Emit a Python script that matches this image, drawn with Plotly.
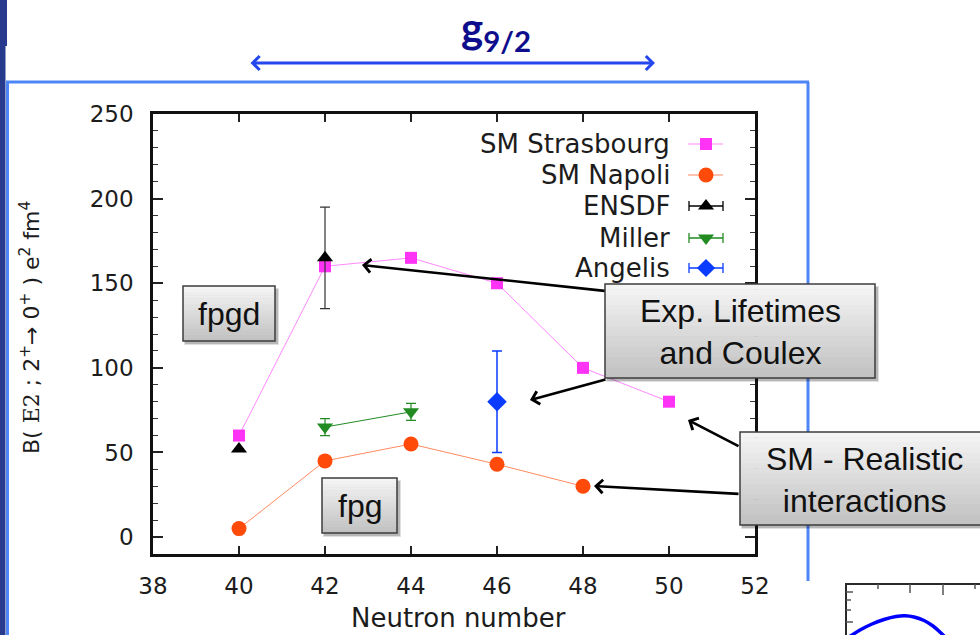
import plotly.graph_objects as go

W, H = 980, 635

# ---- data: B(E2; 2+ -> 0+) in e^2 fm^4 versus neutron number ----
n_strasbourg = [40, 42, 44, 46, 48, 50]
be2_strasbourg = [60, 160, 165, 150, 100, 80]

n_napoli = [40, 42, 44, 46, 48]
be2_napoli = [5, 45, 55, 43, 30]

n_ensdf = [40, 42]
be2_ensdf = [52, 165]
err_ensdf = [0, 30]

n_miller = [42, 44]
be2_miller = [65, 74]
err_miller = [5, 5]

n_angelis = [46]
be2_angelis = [80]
err_angelis = [30]

x_tick_vals = [38, 40, 42, 44, 46, 48, 50, 52]
y_tick_vals = [0, 50, 100, 150, 200, 250]

legend_names = ["SM Strasbourg", "SM Napoli", "ENSDF", "Miller", "Angelis"]

# small curve of the neighbouring panel peeking in at the bottom right
inset_curve_x = [849, 860, 872, 884, 896, 905, 914, 924, 933, 941, 946]
inset_curve_y = [637, 630, 624, 619.5, 616.5, 615.8, 617, 620.5, 626, 633, 638]

# ---- styling ----
MAGENTA = "#ff33f5"
MAGENTA_LINE = "#ff88ff"
ORANGE = "#ff4a0a"
ORANGE_LINE = "#ff8a60"
GREEN = "#228b22"
BLUE = "#0a3cff"
FRAME_BLUE = "#4f86f7"
NAVY = "#283a8e"
TEXT = "#1c1c1c"
SANS = "DejaVu Sans"
BOX_FONT = "Liberation Sans"

# plot-area placement in pixels
PX0, PX1 = 153, 755
PY0, PY1 = 114, 554


def fx(px):
    return px / W


def fy(py):
    return 1 - py / H


fig = go.Figure()

# ---- main data traces ----
fig.add_trace(go.Scatter(
    x=n_strasbourg, y=be2_strasbourg, mode="lines+markers",
    line=dict(color=MAGENTA_LINE, width=1),
    marker=dict(symbol="square", size=12, color=MAGENTA),
    name=legend_names[0], showlegend=False))
fig.add_trace(go.Scatter(
    x=n_napoli, y=be2_napoli, mode="lines+markers",
    line=dict(color=ORANGE_LINE, width=1),
    marker=dict(symbol="circle", size=15, color=ORANGE),
    name=legend_names[1], showlegend=False))
fig.add_trace(go.Scatter(
    x=n_ensdf, y=be2_ensdf, mode="markers",
    marker=dict(symbol="triangle-up", size=14, color="black"),
    error_y=dict(type="data", array=err_ensdf, color="#333", thickness=1.2, width=5),
    name=legend_names[2], showlegend=False))
fig.add_trace(go.Scatter(
    x=n_miller, y=be2_miller, mode="lines+markers",
    line=dict(color=GREEN, width=1),
    marker=dict(symbol="triangle-down", size=14, color=GREEN),
    error_y=dict(type="data", array=err_miller, color=GREEN, thickness=1.2, width=5),
    name=legend_names[3], showlegend=False))
fig.add_trace(go.Scatter(
    x=n_angelis, y=be2_angelis, mode="markers",
    marker=dict(symbol="diamond", size=15, color=BLUE),
    error_y=dict(type="data", array=err_angelis, color=BLUE, thickness=1.5, width=5),
    name=legend_names[4], showlegend=False))

# ---- overlay (pixel coordinates) for legend, decorations ----
OV = dict(xaxis="x2", yaxis="y2", showlegend=False, hoverinfo="skip")
leg_y = [144, 175, 206, 238, 268]
leg_mx, leg_x0, leg_x1 = 706, 688, 723

fig.add_trace(go.Scatter(x=[leg_x0, leg_x1], y=[leg_y[0]] * 2, mode="lines",
                         line=dict(color=MAGENTA_LINE, width=1.2), **OV))
fig.add_trace(go.Scatter(x=[leg_mx], y=[leg_y[0]], mode="markers",
                         marker=dict(symbol="square", size=12, color=MAGENTA), **OV))
fig.add_trace(go.Scatter(x=[leg_x0, leg_x1], y=[leg_y[1]] * 2, mode="lines",
                         line=dict(color=ORANGE_LINE, width=1.2), **OV))
fig.add_trace(go.Scatter(x=[leg_mx], y=[leg_y[1]], mode="markers",
                         marker=dict(symbol="circle", size=15, color=ORANGE), **OV))
for yy, sym, col in [(leg_y[2], "triangle-up", "black"),
                     (leg_y[3], "triangle-down", GREEN),
                     (leg_y[4], "diamond", BLUE)]:
    fig.add_trace(go.Scatter(
        x=[leg_mx], y=[yy], mode="markers",
        marker=dict(symbol=sym, size=14, color=col),
        error_x=dict(type="constant", value=leg_x1 - leg_mx, color=col,
                     thickness=1.3, width=5), **OV))

# neighbouring panel curve
fig.add_trace(go.Scatter(x=inset_curve_x, y=inset_curve_y, mode="lines",
                         line=dict(color="#0000ff", width=3.5, shape="spline"), **OV))

shapes = []


def ov_rect(x0, y0, x1, y1, fill=None, line_color=None, line_width=0, layer="above"):
    shapes.append(dict(type="rect", xref="x2", yref="y2", x0=x0, y0=y0, x1=x1, y1=y1,
                       fillcolor=fill if fill else "rgba(0,0,0,0)",
                       line=dict(color=line_color if line_color else "rgba(0,0,0,0)",
                                 width=line_width),
                       layer=layer))


def ov_line(x0, y0, x1, y1, color, width, layer="above"):
    shapes.append(dict(type="line", xref="x2", yref="y2", x0=x0, y0=y0, x1=x1, y1=y1,
                       line=dict(color=color, width=width), layer=layer))


# slide decorations: left band and blue frame
ov_rect(-2, -2, 7, 46, fill=NAVY)
ov_rect(-2, 46, 5.5, 640, fill=NAVY)
ov_line(7.5, 82, 7.5, 640, FRAME_BLUE, 3)
ov_line(6, 82, 809, 82, FRAME_BLUE, 3)
ov_line(808, 82, 808, 581, FRAME_BLUE, 3)

# neighbouring panel frame and ticks
ov_line(846, 584, 990, 584, "#2a2a2a", 2)
ov_line(846, 583, 846, 640, "#2a2a2a", 2)
for tx, tl in [(878, 5), (910, 9), (943, 11), (975, 5)]:
    ov_line(tx, 584, tx, 584 + tl, "#555", 1.5)
for ty, tl in [(592, 7), (600, 5), (610, 5), (622, 7)]:
    ov_line(846, ty, 846 + tl, ty, "#555", 1.5)


def callout(x0, y0, x1, y1):
    # soft drop shadow
    ov_rect(x0 + 1, y0 + 2, x1 + 4, y1 + 4, fill="rgba(0,0,0,0.12)")
    ov_rect(x0 + 2, y0 + 3, x1 + 3, y1 + 3, fill="rgba(0,0,0,0.18)")
    # vertical grey gradient
    n = 18
    top, bot = (246, 246, 246), (192, 192, 192)
    for i in range(n):
        t = (i + 0.5) / n
        c = tuple(int(round(top[k] + (bot[k] - top[k]) * t)) for k in range(3))
        ya = y0 + (y1 - y0) * i / n
        yb = y0 + (y1 - y0) * (i + 1) / n + 0.6
        ov_rect(x0, ya, x1, min(yb, y1), fill="rgb(%d,%d,%d)" % c)
    ov_rect(x0, y0, x1, y1, line_color="#3c3c3c", line_width=1.5)


callout(183, 286, 275, 341)
callout(322, 478, 397, 533)
callout(605, 284, 875, 378)
callout(740, 432, 995, 525)

annotations = []


def ov_text(x, y, text, size, family=SANS, color=TEXT, xanchor="center",
            yanchor="middle", angle=0):
    annotations.append(dict(xref="x2", yref="y2", x=x, y=y, text=text, showarrow=False,
                            xanchor=xanchor, yanchor=yanchor, textangle=angle,
                            font=dict(family=family, size=size, color=color)))


def ov_arrow(hx, hy, tx, ty, color="black", width=2.6, head=4, both=False, size=1.0):
    a = dict(xref="x2", yref="y2", axref="x2", ayref="y2", x=hx, y=hy, ax=tx, ay=ty,
             text="", showarrow=True, arrowhead=head, arrowsize=size,
             arrowwidth=width, arrowcolor=color, standoff=0, startstandoff=0)
    if both:
        a.update(arrowside="end+start", startarrowhead=head, startarrowsize=size)
    annotations.append(a)


# legend labels
for name, yy in zip(legend_names, leg_y):
    ov_text(672, yy, name, 26, xanchor="right")

# axis titles
ov_text(458, 618, "Neutron number", 26)
ov_text(30, 328,
        "B( <span style='font-family:\"DejaVu Serif\"'>E2</span> ; 2<sup>+</sup>"
        "\u2192 0<sup>+</sup> ) e<sup>2</sup> fm<sup>4</sup>",
        22, angle=-90)

# callout texts
ov_text(229, 314, "fpgd", 32, family=BOX_FONT, color="#111")
ov_text(360, 506, "fpg", 32, family=BOX_FONT, color="#111")
ov_text(740, 332, "Exp. Lifetimes<br>and Coulex", 32, family=BOX_FONT, color="#111")
ov_text(864, 480, "SM - Realistic<br>interactions", 32, family=BOX_FONT, color="#111")

# g9/2 header and its span arrow
ov_text(496, 30, "<b>g<sub>9/2</sub></b>", 42, family="Lato", color="#0e0e8c")
ov_arrow(655, 63, 249, 63, color="#2447ee", width=3, head=4, both=True, size=0.9)

# pointer arrows from callouts
ov_arrow(362, 265, 606, 291)
ov_arrow(530, 400, 607, 379)
ov_arrow(688, 420, 740, 447)
ov_arrow(594, 486, 740, 494)

fig.update_layout(
    width=W, height=H,
    autosize=False,
    margin=dict(l=0, r=0, t=0, b=0, pad=0, autoexpand=False),
    paper_bgcolor="white",
    plot_bgcolor="rgba(0,0,0,0)",
    showlegend=False,
    hovermode=False,
    shapes=shapes,
    annotations=annotations,
    xaxis=dict(
        domain=[fx(PX0), fx(PX1)], range=[38, 52],
        tickmode="array", tickvals=x_tick_vals,
        ticks="inside", ticklen=8, tickwidth=1.5, tickcolor="#222",
        showline=True, linewidth=2.5, linecolor="#111", mirror="allticks",
        showgrid=False, zeroline=False, automargin=False,
        tickfont=dict(family=SANS, size=23, color=TEXT),
        ticklabelstandoff=10, anchor="y",
    ),
    yaxis=dict(
        domain=[fy(PY1), fy(PY0)], range=[-10, 250],
        tickmode="array", tickvals=y_tick_vals,
        ticks="inside", ticklen=10, tickwidth=1.5, tickcolor="#222",
        minor=dict(dtick=10, ticks="inside", ticklen=5, tickwidth=1.2, tickcolor="#333"),
        showline=True, linewidth=2.5, linecolor="#111", mirror="allticks",
        showgrid=False, zeroline=False, automargin=False,
        tickfont=dict(family=SANS, size=23, color=TEXT),
        ticklabelstandoff=12, anchor="x",
    ),
    xaxis2=dict(domain=[0, 1], range=[0, W], visible=False, anchor="y2",
                fixedrange=True, automargin=False),
    yaxis2=dict(domain=[0, 1], range=[H, 0], visible=False, anchor="x2",
                fixedrange=True, automargin=False),
)

fig.write_html("out.html")
